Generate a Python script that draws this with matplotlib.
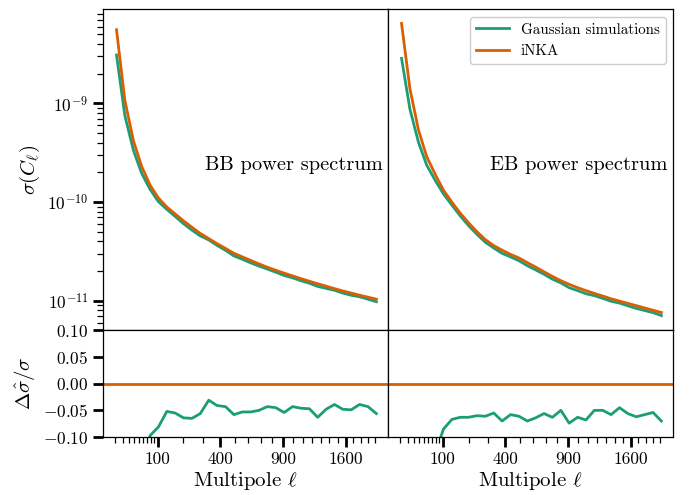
import matplotlib
matplotlib.use('Agg')
import matplotlib.pyplot as plt
import numpy as np

# multipole bin centres
ell = [12, 23, 38, 56, 78, 103, 132, 164, 200, 240, 283, 330, 380, 434, 492, 553,
       617, 685, 757, 833, 911, 994, 1080, 1170, 1263, 1359, 1460, 1563, 1671, 1782, 1897, 2015]

# sigma(C_ell) in units of 1e-12
bb_inka = [5570, 1072, 417, 229, 148, 110, 89.1, 75.9, 64.6, 55.6, 48.2, 42.7, 38.0, 34.0, 30.3, 27.9,
           25.7, 23.7, 21.9, 20.4, 19.1, 17.9, 16.8, 15.8, 14.9, 14.1, 13.3, 12.6, 12.0, 11.4, 10.9, 10.4]
bb_gauss = [3091, 750, 334, 195, 134, 101, 84.5, 71.7, 60.5, 52.0, 45.5, 41.4, 36.4, 32.5, 28.5, 26.4,
            24.3, 22.5, 21.0, 19.5, 18.1, 17.1, 16.0, 15.1, 14.0, 13.4, 12.8, 12.0, 11.4, 11.0, 10.4, 9.8]
eb_inka = [6457, 1413, 537, 288, 191, 132, 100, 77.6, 61.7, 50.1, 41.7, 36.3, 32.6, 29.6, 27.2, 24.4,
           22.0, 19.7, 17.7, 16.0, 14.7, 13.6, 12.7, 11.9, 11.2, 10.5, 9.95, 9.44, 8.95, 8.47, 8.04, 7.62]
eb_gauss = [2860, 876, 403, 236, 166, 121, 93.3, 72.7, 57.8, 47.1, 39.2, 34.3, 30.3, 27.9, 25.5, 22.7,
            20.6, 18.6, 16.6, 15.2, 13.6, 12.7, 11.8, 11.3, 10.6, 9.9, 9.5, 8.91, 8.40, 7.98, 7.61, 7.09]

# relative difference of the Gaussian simulations w.r.t. iNKA
bb_diff = [-0.445, -0.30, -0.20, -0.15, -0.097, -0.081, -0.052, -0.055, -0.064, -0.065, -0.056, -0.031,
           -0.041, -0.043, -0.058, -0.053, -0.053, -0.050, -0.043, -0.045, -0.054, -0.043, -0.046, -0.047,
           -0.063, -0.048, -0.039, -0.048, -0.049, -0.039, -0.043, -0.056]
eb_diff = [-0.557, -0.38, -0.25, -0.18, -0.13, -0.085, -0.067, -0.063, -0.063, -0.060, -0.061, -0.055,
           -0.070, -0.058, -0.061, -0.070, -0.064, -0.056, -0.063, -0.050, -0.074, -0.063, -0.068, -0.050,
           -0.050, -0.058, -0.045, -0.056, -0.062, -0.058, -0.054, -0.070]

major_ticks = [100, 400, 900, 1600]
minor_ticks = [10, 20, 30, 40, 50, 60, 70, 80, 90, 200, 300, 500, 600, 700, 800,
               1000, 1100, 1200, 1300, 1400, 1500, 1700, 1800, 1900, 2000]
diff_ticks = [-0.10, -0.05, 0.00, 0.05, 0.10]
diff_labels = ['$-0.10$', '$-0.05$', '$0.00$', '$0.05$', '$0.10$']

green = '#1b9e77'
orange = '#d95f02'

plt.rcParams['font.family'] = 'serif'
plt.rcParams['font.serif'] = ['cmr10']
plt.rcParams['mathtext.fontset'] = 'cm'
plt.rcParams['axes.formatter.use_mathtext'] = True
plt.rcParams['axes.unicode_minus'] = False
plt.rcParams['axes.linewidth'] = 0.9

fig = plt.figure(figsize=(6.91, 4.95), dpi=100)
gs = fig.add_gridspec(2, 2, height_ratios=[3, 1], hspace=0, wspace=0,
                      left=0.149, right=0.974, top=0.981, bottom=0.117)

ax_bb = fig.add_subplot(gs[0, 0])
ax_eb = fig.add_subplot(gs[0, 1], sharey=ax_bb)
ax_bbd = fig.add_subplot(gs[1, 0], sharex=ax_bb)
ax_ebd = fig.add_subplot(gs[1, 1], sharex=ax_eb, sharey=ax_bbd)

sqrt_scale = (lambda x: np.sqrt(np.clip(x, 0, None)), lambda x: x ** 2)
ell_arr = np.array(ell)

for ax, gauss, inka, name in [(ax_bb, bb_gauss, bb_inka, 'BB'), (ax_eb, eb_gauss, eb_inka, 'EB')]:
    ax.plot(ell_arr, np.array(gauss) * 1e-12, color=green, lw=2, label='Gaussian simulations')
    ax.plot(ell_arr, np.array(inka) * 1e-12, color=orange, lw=2, label='iNKA')
    ax.set_yscale('log')
    ax.set_xscale('function', functions=sqrt_scale)
    ax.text(0.982, 0.514, name + ' power spectrum', transform=ax.transAxes,
            ha='right', va='center', fontsize=14.7)
    ax.tick_params(axis='x', which='both', bottom=False, labelbottom=False)

for ax, diff in [(ax_bbd, bb_diff), (ax_ebd, eb_diff)]:
    ax.plot(ell_arr, diff, color=green, lw=2)
    ax.axhline(0, color=orange, lw=2)
    ax.set_xscale('function', functions=sqrt_scale)
    ax.set_xticks(major_ticks)
    ax.set_xticks(minor_ticks, minor=True)
    ax.set_xticklabels([str(t) for t in major_ticks])
    ax.set_xlabel(r'Multipole $\ell$', fontsize=15, labelpad=2)

ax_bb.set_xlim(1.7, 2185)
ax_eb.set_xlim(1.7, 2185)
ax_bb.set_ylim(5.05e-12, 8.95e-9)
ax_bbd.set_ylim(-0.1, 0.1)
ax_bbd.set_yticks(diff_ticks)
ax_bbd.set_yticklabels(diff_labels)

ax_bb.set_ylabel(r'$\sigma(C_\ell)$', fontsize=15)
ax_bbd.set_ylabel(r'$\Delta\hat{\sigma}/\sigma$', fontsize=15)

for ax in [ax_eb, ax_ebd]:
    ax.tick_params(axis='y', which='both', left=False, labelleft=False)

for ax in [ax_bb, ax_eb, ax_bbd, ax_ebd]:
    ax.tick_params(which='major', direction='out', length=7, width=2, labelsize=12.5, color='black')
    ax.tick_params(which='minor', direction='out', length=4, width=0.9, color='black')

ax_eb.legend(loc='upper right', fontsize=10.8, handlelength=2.2, framealpha=1)

fig.savefig('out.png', dpi=100)
